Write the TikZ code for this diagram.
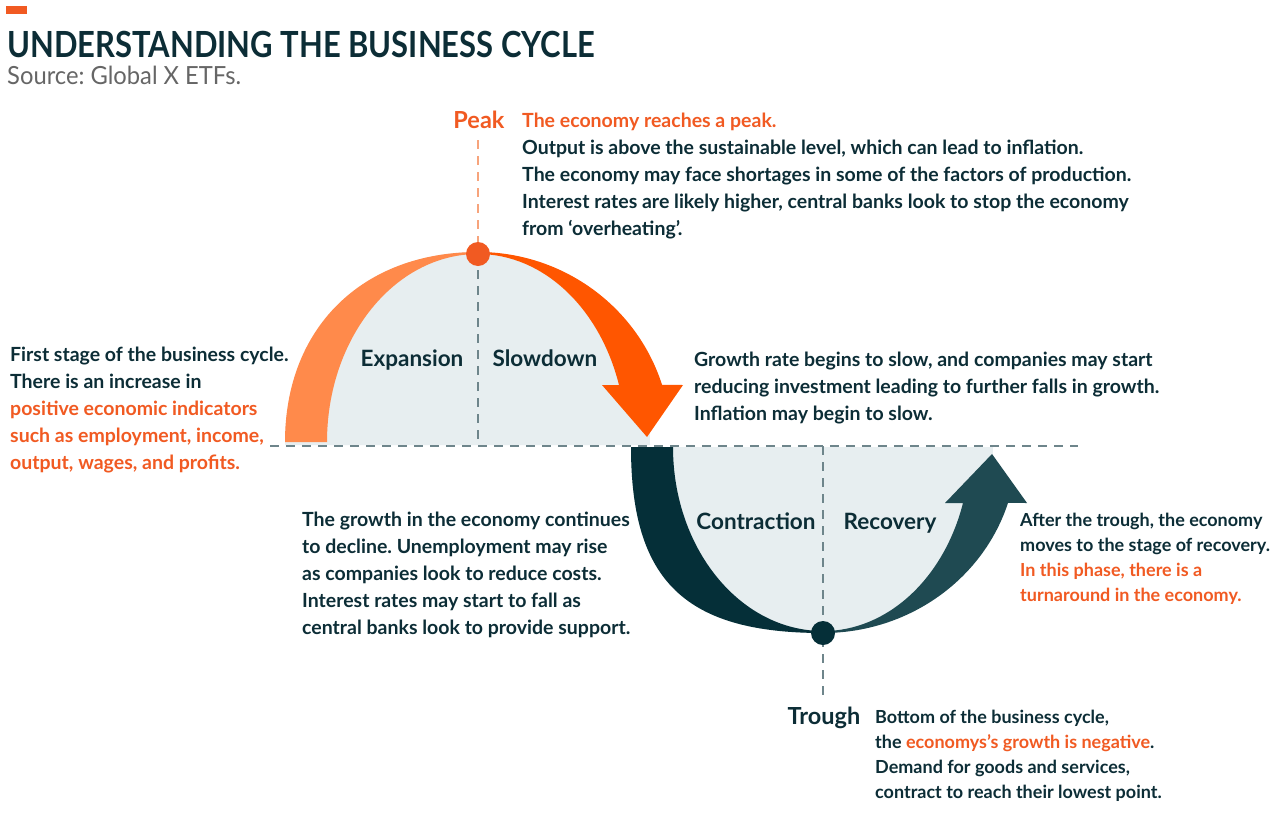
\documentclass[tikz,border=0pt]{standalone}
\usepackage{fontspec}
\usepackage{xcolor}
\setmainfont{Lato}
\newfontfamily\condensedfont{Lato}[FakeStretch=0.86]
\newfontfamily\sourcefont{Lato}[FakeStretch=0.95]
\frenchspacing
\definecolor{ink}{HTML}{0C2D36}
\definecolor{accent}{HTML}{F15A22}
\definecolor{expband}{HTML}{FF8A4B}
\definecolor{slowband}{HTML}{FF5600}
\definecolor{contband}{HTML}{052F38}
\definecolor{recband}{HTML}{1F4A52}
\definecolor{phasefill}{HTML}{E7EEF0}
\definecolor{guide}{HTML}{6E858B}
\definecolor{peakguide}{HTML}{F7A47C}
\definecolor{srcgray}{HTML}{666666}
\newcommand{\charttitle}[1]{{\condensedfont\fontsize{36}{40}\selectfont\bfseries\color{ink}#1}}
\newcommand{\chartsource}[1]{{\sourcefont\fontsize{25}{30}\selectfont\color{srcgray}#1}}
\newcommand{\bodyfont}{\fontsize{19.5}{27}\selectfont\bfseries}
\newcommand{\smallbodyfont}{\fontsize{18}{25}\selectfont\bfseries}
\newcommand{\phasefont}{\fontsize{22.5}{26}\selectfont\bfseries}
\newcommand{\pointfont}{\fontsize{23.5}{28}\selectfont\bfseries}

\begin{document}
\begin{tikzpicture}[x=1pt,y=-1pt,
    body/.style={anchor=north west, inner sep=0pt, align=left, font=\bodyfont, text=ink},
    smallbody/.style={body, font=\smallbodyfont},
    phase/.style={anchor=base, inner sep=0pt, font=\phasefont, text=ink},
    guideline/.style={draw=guide, line width=2pt, dash pattern=on 9pt off 7pt}]
\path[use as bounding box, fill=white] (0,0) rectangle (1280,833);
\fill[accent] (6,6) rectangle (27,14);
\node[anchor=base west, inner sep=0pt] (title) at (7,57) {\charttitle{UNDERSTANDING THE BUSINESS CYCLE}};
\node[anchor=base west, inner sep=0pt] (source) at (7,84) {\chartsource{Source: Global X ETFs.}};

\coordinate (peak) at (478,254);
\coordinate (trough) at (823,633);
\coordinate (axisL) at (270,446);
\coordinate (axisR) at (1078,446);

% shaded phase areas
\fill[phasefill] (285,445) .. controls (285,331) and (362,252) .. (478,252)
    arc[start angle=270,end angle=360,x radius=172,y radius=193] -- cycle;
\fill[phasefill] (631,447) .. controls (631,581) and (685,633) .. (823,633)
    arc[start angle=90,end angle=0,x radius=170,y radius=186] -- cycle;

% guides
\node[anchor=base, inner sep=0pt, font=\pointfont, text=accent] (peaklabel) at (479,128) {Peak};
\node[anchor=base, inner sep=0pt, font=\pointfont, text=ink] (troughlabel) at (824,724) {Trough};
\draw[guideline] (axisL) -- (axisR);
\draw[guideline, draw=peakguide] ([yshift=-12pt]peaklabel.south -| peak) -- ([yshift=12pt]peak);
\draw[guideline] (peak) -- (peak |- axisL);
\draw[guideline] (trough |- axisL) -- ([yshift=10pt]troughlabel.north -| trough);

% bands
\fill[expband] (285,442) .. controls (285,328) and (362,252) .. (478,252) -- (478,254)
    arc[start angle=270,end angle=180,x radius=151,y radius=188] -- cycle;
\fill[slowband] (478,252) arc[start angle=270,end angle=342.5,x radius=193,y radius=190]
    -- (683,385) -- (647,437) -- (602,385) -- (619,385)
    arc[start angle=342.35,end angle=270,x radius=148,y radius=188] -- cycle;
\fill[contband] (631,447) .. controls (631,581) and (685,633) .. (823,633) -- (823,631)
    arc[start angle=90,end angle=180,x radius=150,y radius=184] -- cycle;
\fill[recband] (823,633) arc[start angle=90,end angle=17.5,x radius=194,y radius=186]
    -- (1027,503) -- (992,454) -- (945,503) -- (963,503)
    arc[start angle=17.7,end angle=90,x radius=147,y radius=184] -- cycle;
\fill[accent] (peak) circle[radius=12];
\fill[contband] (trough) circle[radius=12];

% phase names
\node[phase] (expansion) at (412,366) {Expansion};
\node[phase] (slowdown) at (545,366) {Slowdown};
\node[phase] (contraction) at (756,529) {Contraction};
\node[phase] (recovery) at (890,529) {Recovery};

% descriptions
\node[body] (peaktext) at (522,113) {\textcolor{accent}{The economy reaches a peak.}\\
    Output is above the sustainable level, which can lead to inflation.\\
    The economy may face shortages in some of the factors of production.\\
    Interest rates are likely higher, central banks look to stop the economy\\
    from ‘overheating’.};
\node[body] (exptext) at (10,347) {First stage of the business cycle.\\
    There is an increase in\\
    \textcolor{accent}{positive economic indicators}\\
    \textcolor{accent}{such as employment, income,}\\
    \textcolor{accent}{output, wages, and profits.}};
\node[body] (slowtext) at (694,352) {Growth rate begins to slow, and companies may start\\
    reducing investment leading to further falls in growth.\\
    Inflation may begin to slow.};
\node[body] (conttext) at (302,512) {The growth in the economy continues\\
    to decline. Unemployment may rise\\
    as companies look to reduce costs.\\
    Interest rates may start to fall as\\
    central banks look to provide support.};
\node[smallbody] (rectext) at (1020,513) {After the trough, the economy\\
    moves to the stage of recovery.\\
    \textcolor{accent}{In this phase, there is a}\\
    \textcolor{accent}{turnaround in the economy.}};
\node[smallbody] (troughtext) at (875,710) {Bottom of the business cycle,\\
    the \textcolor{accent}{economys’s growth is negative}.\\
    Demand for goods and services,\\
    contract to reach their lowest point.};
\end{tikzpicture}
\end{document}
